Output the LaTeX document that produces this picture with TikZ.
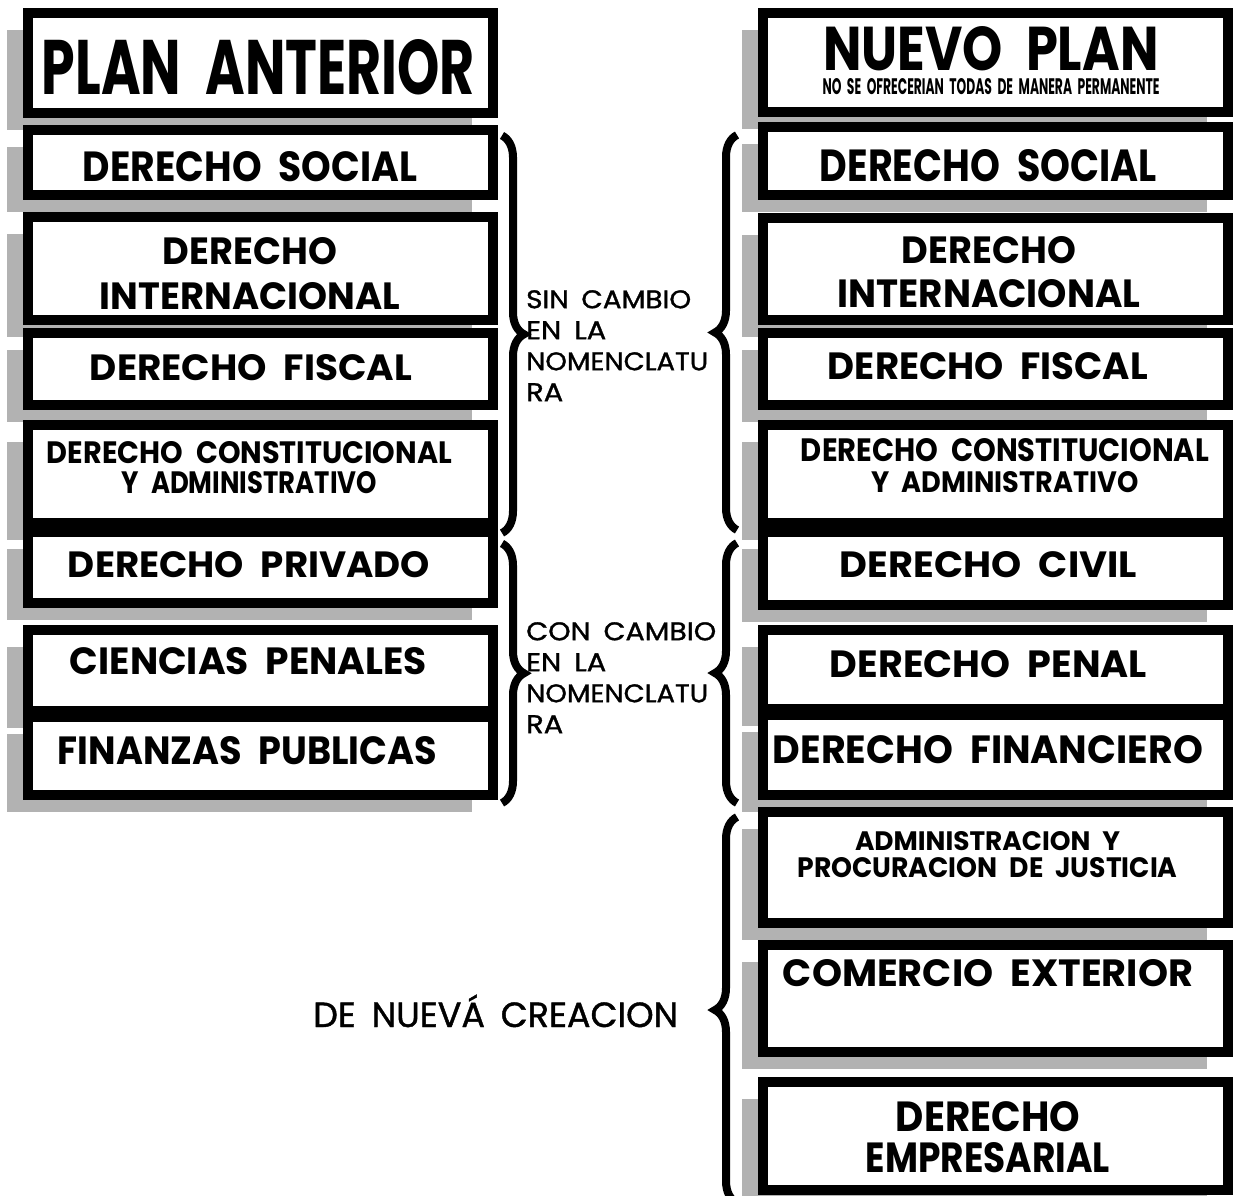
\documentclass[tikz,border=0pt]{standalone}
\usepackage{fontspec}
\setmainfont{Poppins}
\newfontfamily\notafont{Poppins}[FakeBold=1.2]
\usetikzlibrary{shadows,decorations.pathreplacing}
\newcommand{\rotulo}[3]{\resizebox{#1pt}{#2pt}{\spaceskip=0.45em\relax #3}}
\tikzset{
  caja/.style={draw, line width=10pt, fill=white, outer sep=0pt, minimum width=465pt,
    drop shadow={shadow xshift=-21pt, shadow yshift=-17pt, opacity=1, fill=black!30}},
  texto/.style={inner sep=0pt, align=center, font=\bfseries},
  nota/.style={inner sep=0pt, align=left, font=\notafont\fontsize{10}{31}\selectfont},
  llave/.style={decorate, decoration={brace, amplitude=22pt}, line width=8pt}
}
\begin{document}
\begin{tikzpicture}[x=1pt,y=-1pt]
\useasboundingbox (0,0) rectangle (1233,1195);
% plan anterior
\node[caja, minimum height=100pt] (lplan) at (260.5,63) {};
\node[caja, minimum height=65pt] (lsocial) at (260.5,162.5) {};
\node[caja, minimum height=103pt] (linter) at (260.5,268.5) {};
\node[caja, minimum height=72pt] (lfiscal) at (260.5,369) {};
\node[caja, minimum height=98pt] (lconst) at (260.5,474) {};
\node[caja, minimum height=71pt] (lprivado) at (260.5,567.5) {};
\node[caja, minimum height=81pt] (lpenales) at (260.5,670.5) {};
\node[caja, minimum height=78pt] (lfinanzas) at (260.5,756) {};
% nuevo plan
\node[caja, minimum height=99pt] (rplan) at (995.5,62.5) {};
\node[caja, minimum height=68pt] (rsocial) at (995.5,161) {};
\node[caja, minimum height=102pt] (rinter) at (995.5,269) {};
\node[caja, minimum height=72pt] (rfiscal) at (995.5,369) {};
\node[caja, minimum height=98pt] (rconst) at (995.5,474) {};
\node[caja, minimum height=73pt] (rcivil) at (995.5,568.5) {};
\node[caja, minimum height=79pt] (rpenal) at (995.5,669.5) {};
\node[caja, minimum height=80pt] (rfinanciero) at (995.5,755) {};
\node[caja, minimum height=111pt] (radmin) at (995.5,867.5) {};
\node[caja, minimum height=107pt] (rcomercio) at (995.5,998.5) {};
\node[caja, minimum height=108pt] (rempresarial) at (995.5,1136) {};
% textos izquierda
\node[texto] (tlplan) at (258.5,67.5) {\rotulo{433}{55}{PLAN ANTERIOR}};
\node[texto] (tlsocial) at (250,167) {\rotulo{334}{30}{DERECHO SOCIAL}};
\node[texto, font=\bfseries\fontsize{10}{45}\selectfont] (tlinter) at (250,273.5)
  {\rotulo{174}{27}{DERECHO}\\\rotulo{300}{27}{INTERNACIONAL}};
\node[texto] (tlfiscal) at (251,368) {\rotulo{322}{26}{DERECHO FISCAL}};
\node[texto, font=\bfseries\fontsize{10}{30}\selectfont] (tlconst) at (249.5,468)
  {\rotulo{405}{22}{DERECHO CONSTITUCIONAL}\\\rotulo{255}{22}{Y ADMINISTRATIVO}};
\node[texto] (tlprivado) at (249,565) {\rotulo{362}{26}{DERECHO PRIVADO}};
\node[texto] (tlpenales) at (248.5,661.5) {\rotulo{357}{27}{CIENCIAS PENALES}};
\node[texto] (tlfinanzas) at (247.5,751) {\rotulo{379}{28}{FINANZAS PUBLICAS}};
% textos derecha
\node[texto, font=\bfseries\fontsize{10}{24}\selectfont] (trplan) at (991,61)
  {\rotulo{335}{44}{NUEVO PLAN}\\\rotulo{337}{16}{NO SE OFRECERIAN TODAS DE MANERA PERMANENTE}};
\node[texto] (trsocial) at (988.5,166) {\rotulo{337}{32}{DERECHO SOCIAL}};
\node[texto, font=\bfseries\fontsize{10}{44}\selectfont] (trinter) at (989,272.5)
  {\rotulo{174}{27}{DERECHO}\\\rotulo{303}{28}{INTERNACIONAL}};
\node[texto] (trfiscal) at (988,366.5) {\rotulo{320}{27}{DERECHO FISCAL}};
\node[texto, font=\bfseries\fontsize{10}{31}\selectfont] (trconst) at (1005,466)
  {\rotulo{408}{23}{DERECHO CONSTITUCIONAL}\\\rotulo{267}{21}{Y ADMINISTRATIVO}};
\node[texto] (trcivil) at (988.5,565) {\rotulo{297}{26}{DERECHO CIVIL}};
\node[texto] (trpenal) at (988.5,664.5) {\rotulo{317}{27}{DERECHO PENAL}};
\node[texto] (trfinanciero) at (988,750) {\rotulo{430}{28}{DERECHO FINANCIERO}};
\node[texto, font=\bfseries\fontsize{10}{27}\selectfont] (tradmin) at (987.5,855)
  {\rotulo{265}{19}{ADMINISTRACION Y}\\\rotulo{380}{20}{PROCURACION DE JUSTICIA}};
\node[texto] (trcomercio) at (988,973.5) {\rotulo{410}{27}{COMERCIO EXTERIOR}};
\node[texto, font=\bfseries\fontsize{10}{41}\selectfont] (trempresarial) at (988,1137.5)
  {\rotulo{184}{30}{DERECHO}\\\rotulo{244}{30}{EMPRESARIAL}};
% llaves y notas
\draw[llave] ([shift={(9,5.5)}]lsocial.north east) -- ([shift={(9,10)}]lconst.south east);
\draw[llave] ([shift={(9,11.5)}]lprivado.north east) -- ([shift={(9,8)}]lfinanzas.south east);
\draw[llave] ([shift={(-26,7)}]rconst.south west) -- ([shift={(-26,8)}]rsocial.north west);
\draw[llave] ([shift={(-26,8)}]rfinanciero.south west) -- ([shift={(-26,11)}]rcivil.north west);
\draw[llave] ([shift={(-26,13)}]rempresarial.south west) -- ([shift={(-26,5)}]radmin.north west);
\node[nota, anchor=north west] (sincambio) at (526,290)
  {\rotulo{165}{18}{SIN CAMBIO}\\\rotulo{80}{18}{EN LA}\\\rotulo{182}{18}{NOMENCLATU}\\\rotulo{37}{18}{RA}};
\node[nota, anchor=north west] (concambio) at (526,622)
  {\rotulo{190}{18}{CON CAMBIO}\\\rotulo{80}{18}{EN LA}\\\rotulo{182}{18}{NOMENCLATU}\\\rotulo{37}{18}{RA}};
\node[nota, anchor=base west] (nueva) at (313,1027) {\resizebox{365pt}{!}{\spaceskip=0.45em\relax DE NUEV\'A CREACION}};
\end{tikzpicture}
\end{document}
